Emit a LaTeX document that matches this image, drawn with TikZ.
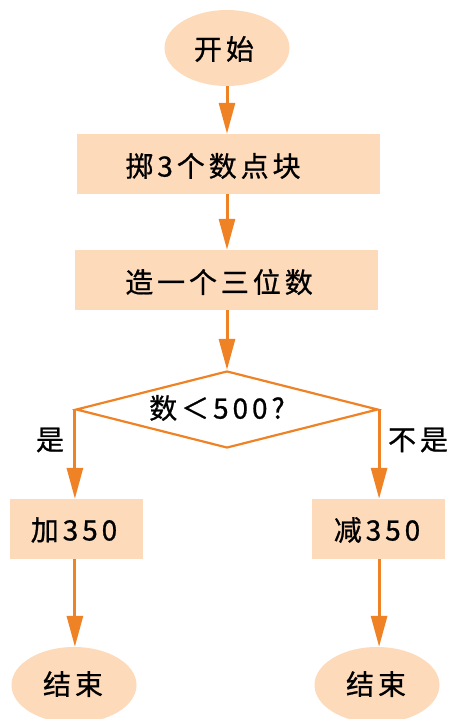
\documentclass[tikz,border=0pt]{standalone}
\usepackage{fontspec}
\setmainfont{Noto Sans CJK SC}[LetterSpace=14,FakeBold=0.8]
\usetikzlibrary{shapes.geometric,arrows.meta}
\definecolor{flowline}{RGB}{240,130,38}
\definecolor{peach}{RGB}{253,218,186}
\tikzset{
  term/.style={ellipse,fill=peach,draw=none,minimum width=125pt,minimum height=76pt,inner sep=0pt},
  procbox/.style={rectangle,fill=peach,draw=none,inner sep=0pt},
  decision/.style={diamond,draw=flowline,line width=2.2pt,fill=white,minimum width=302pt,minimum height=77pt,inner sep=0pt},
  flow/.style={draw=flowline,line width=3pt,-{Triangle[length=31pt,width=16pt]}},
  txt/.style={font=\fontsize{28pt}{32pt}\selectfont,inner sep=0pt}
}
\begin{document}
\begin{tikzpicture}[x=1pt,y=-1pt]
\useasboundingbox (0,0) rectangle (450,719);
\node[term] (start) at (227,48) {};
\node[txt] at (224,49) {开始};
\node[procbox,minimum width=303pt,minimum height=60pt] (throw) at (228.5,164) {};
\node[txt] at (213,166) {掷3个数点块};
\node[procbox,minimum width=303pt,minimum height=60pt] (make) at (226.5,280) {};
\node[txt] at (219,282) {造一个三位数};
\node[decision] (dec) at (227,409.5) {};
\node[txt] at (217,408) {数＜500?};
\node[procbox,minimum width=133pt,minimum height=60pt] (add) at (76.5,529) {};
\node[txt] at (74,530) {加350};
\node[procbox,minimum width=133pt,minimum height=60pt] (sub) at (378.5,529) {};
\node[txt] at (377,530) {减350};
\node[term] (endl) at (74,685) {};
\node[txt] at (73,684) {结束};
\node[term] (endr) at (377,685) {};
\node[txt] at (376,684) {结束};
\node[txt] (yes) at (50,440) {是};
\node[txt] (no) at (418,440) {不是};
\draw[flow] (start.south) -- (start.south |- throw.north);
\draw[flow] (start.south |- throw.south) -- (start.south |- make.north);
\draw[flow] (start.south |- make.south) -- (dec.north);
\draw[flow] (dec.west) -- (dec.west |- add.north);
\draw[flow] (dec.east) -- (dec.east |- sub.north);
\draw[flow] (add.south -| dec.west) -- (endl.north -| dec.west);
\draw[flow] (sub.south -| dec.east) -- (endr.north -| dec.east);
\end{tikzpicture}
\end{document}
